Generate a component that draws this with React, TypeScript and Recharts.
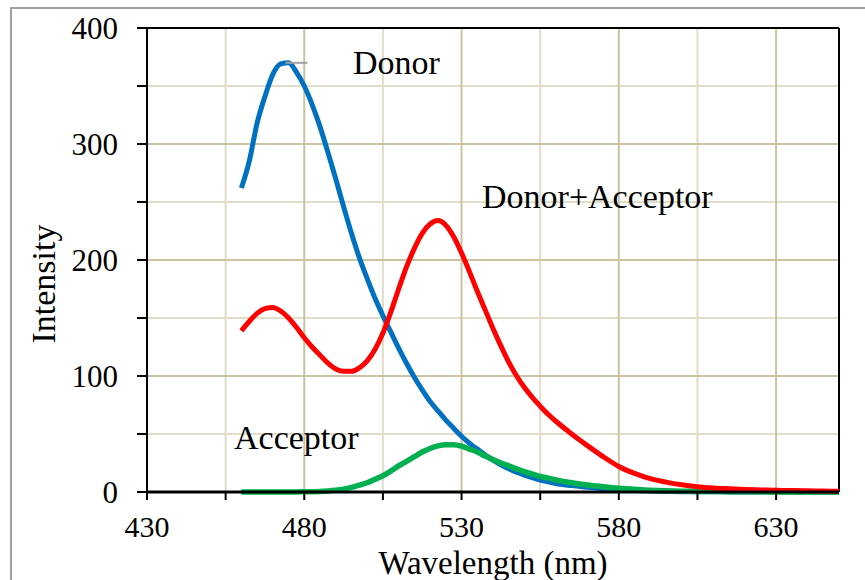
import { LineChart, Line, XAxis, YAxis, CartesianGrid, ReferenceLine, Customized } from 'recharts';

const wavelengths = [
  460, 462.5, 465, 467.5, 470, 472.5, 475, 477.5, 480, 482.5, 485, 487.5, 490, 492.5, 495, 497.5,
  500, 502.5, 505, 507.5, 510, 512.5, 515, 517.5, 520, 522.5, 525, 527.5, 530, 532.5, 535, 537.5,
  540, 542.5, 545, 547.5, 550, 552.5, 555, 557.5, 560, 565, 570, 575, 580, 585, 590, 595, 600,
  605, 610, 615, 620, 625, 630, 635, 640, 645, 650,
];

const donor = [
  262, 285, 318, 341, 360, 369, 370, 362, 350, 334, 315, 293, 270, 246, 223, 202,
  184, 167, 152, 138, 124, 111, 99, 88, 78, 70, 62, 55, 48, 42, 37, 32,
  27.5, 23.5, 20, 17, 14.5, 12.3, 10.3, 8.7, 7.3, 5.5, 4, 3, 2, 1.3, 0.8, 0.5, 0.3,
  0.2, 0.15, 0.1, 0.1, 0.1, 0.05, 0.05, 0, 0, 0,
];

const donorAcceptor = [
  139, 147, 154, 158, 159, 156, 150, 142, 133, 125, 118, 111, 106, 104, 104, 107,
  113, 123, 137, 155, 175, 194, 210, 223, 231, 234, 230, 220, 206, 190, 173, 157,
  141, 126, 112, 100, 90, 81.5, 74, 67, 61, 50, 40, 30.5, 22, 16, 11.5, 8.5, 6.2,
  4.6, 3.5, 2.8, 2.2, 1.8, 1.5, 1.2, 1, 0.8, 0.6,
];

const acceptor = [
  0, 0, 0, 0, 0, 0, 0.1, 0.1, 0.2, 0.3, 0.5, 0.9, 1.5, 2.5, 4, 6,
  8, 11, 14, 18, 22.5, 26.5, 30.5, 34.5, 37.5, 39.7, 40.8, 40.8, 39.5, 37, 34.5, 31,
  28, 25, 22.5, 20, 17.5, 15.5, 13.5, 12, 10.5, 8, 6, 4.5, 3.2, 2.3, 1.5, 1, 0.7,
  0.5, 0.4, 0.3, 0.2, 0.2, 0.1, 0.1, 0.1, 0.1, 0.1,
];

const xTicks = [430, 455, 480, 505, 530, 555, 580, 605, 630];
const yTicks = [0, 50, 100, 150, 200, 250, 300, 350, 400];
const xMajor = [480, 530, 580, 630];
const xMinor = [455, 505, 555, 605];
const yMajor = [100, 200, 300];
const yMinor = [50, 150, 250, 350];

const data = wavelengths.map((w, i) => ({
  w,
  donor: donor[i],
  acceptor: acceptor[i],
  donorAcceptor: donorAcceptor[i],
}));

const FONT = '"Liberation Serif", serif';
const textStyle = { fontFamily: FONT, fontSize: 34, fill: '#000' };

const Annotations = () => (
  <g>
    <text x={353} y={74} style={textStyle}>Donor</text>
    <text x={482} y={208} style={textStyle}>Donor+Acceptor</text>
    <text x={234} y={449} style={textStyle}>Acceptor</text>
  </g>
);

export default function App() {
  return (
    <div style={{ position: 'fixed', left: 0, top: 0, width: 865, height: 580, background: '#fff', overflow: 'hidden' }}>
      <div
        style={{
          position: 'absolute',
          left: 10,
          top: 7,
          width: 900,
          height: 620,
          border: '2px solid #a0a0a0',
        }}
      />
      <LineChart
        width={865}
        height={580}
        data={data}
        margin={{ top: 28, right: 26, left: 0, bottom: 0 }}
        style={{ position: 'absolute', left: 0, top: 0, fontFamily: FONT }}
      >
        <CartesianGrid
          stroke="#e2ddc9"
          strokeWidth={2}
          horizontalValues={yMinor}
          verticalValues={xMinor}
        />
        <CartesianGrid
          stroke="#cbc3a2"
          strokeWidth={2}
          horizontalValues={yMajor}
          verticalValues={xMajor}
        />
        <CartesianGrid stroke="#000" strokeWidth={2} horizontalValues={[400]} verticalValues={[650]} />
        <XAxis
          dataKey="w"
          type="number"
          domain={[430, 650]}
          ticks={xTicks}
          tickFormatter={(v: number) => ((v - 430) % 50 === 0 ? String(v) : '')}
          height={88}
          tickSize={8}
          tickMargin={16}
          axisLine={{ stroke: '#000', strokeWidth: 3 }}
          tickLine={{ stroke: '#000', strokeWidth: 2 }}
          tick={{ fontSize: 30, fill: '#000', fontFamily: FONT }}
          label={{ value: 'Wavelength (nm)', position: 'insideBottom', offset: 6, fontSize: 33, fill: '#000', fontFamily: FONT }}
        />
        <YAxis
          type="number"
          domain={[0, 400]}
          ticks={yTicks}
          tickFormatter={(v: number) => (v % 100 === 0 ? String(v) : '')}
          width={147}
          tickSize={10}
          tickMargin={19}
          axisLine={{ stroke: '#000', strokeWidth: 2 }}
          tickLine={{ stroke: '#000', strokeWidth: 2 }}
          tick={{ fontSize: 31, fill: '#000', fontFamily: FONT }}
          label={{
            content: () => (
              <text
                x={55}
                y={284}
                transform="rotate(-90, 55, 284)"
                textAnchor="middle"
                style={textStyle}
              >
                Intensity
              </text>
            ),
          }}
        />
        <Line type="monotone" dataKey="donor" stroke="#0070c0" strokeWidth={5} dot={false} isAnimationActive={false} />
        <Line type="monotone" dataKey="acceptor" stroke="#00b050" strokeWidth={5.5} dot={false} isAnimationActive={false} />
        <Line type="monotone" dataKey="donorAcceptor" stroke="#ff0000" strokeWidth={5} dot={false} isAnimationActive={false} />
        <ReferenceLine
          segment={[{ x: 474, y: 370 }, { x: 481, y: 370 }]}
          stroke="#a0a0a0"
          strokeWidth={2}
        />
        <Customized component={<Annotations />} />
      </LineChart>
    </div>
  );
}
